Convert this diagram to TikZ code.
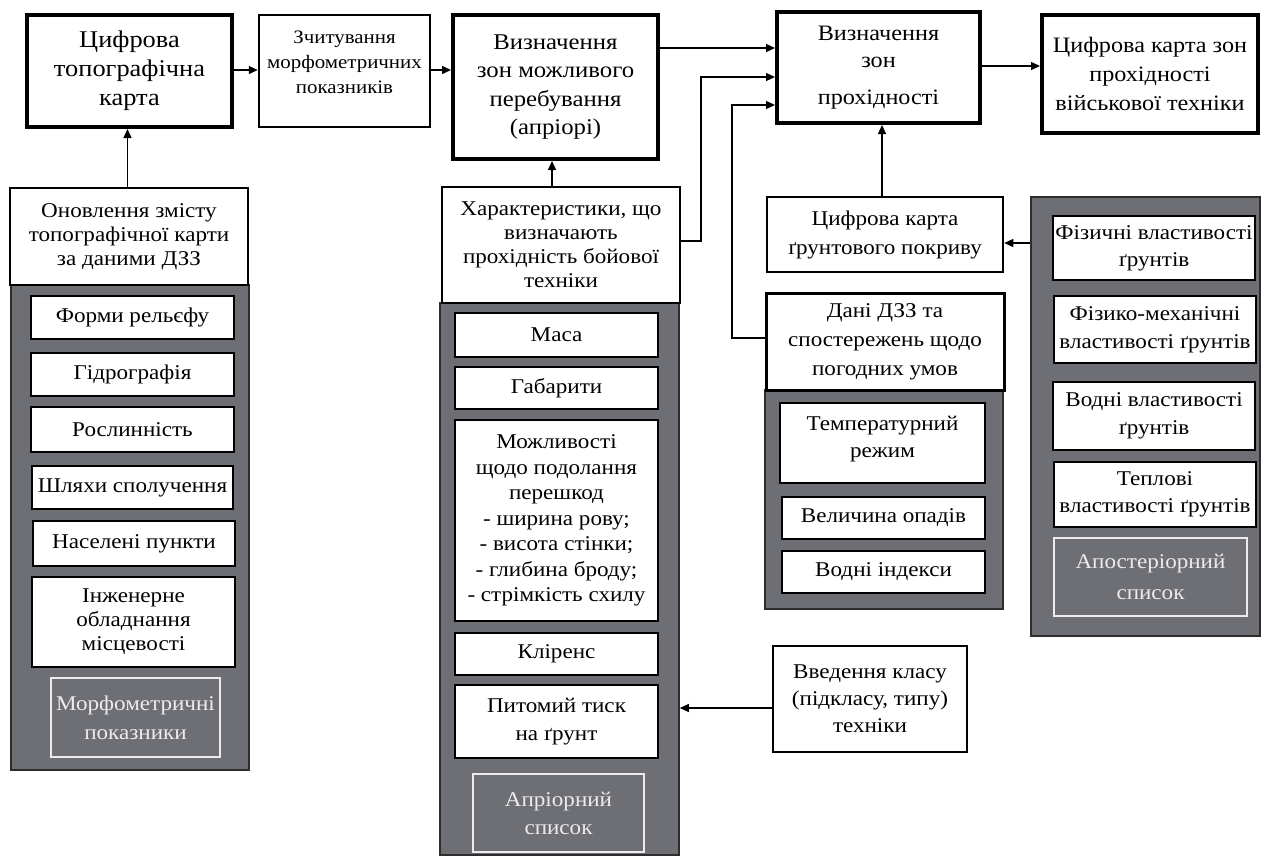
\documentclass[tikz,border=0pt]{standalone}
\usepackage{fontspec}
\setmainfont{Liberation Serif}[FakeStretch=1.1]
\usetikzlibrary{arrows.meta}
\definecolor{panelgray}{RGB}{110,111,116}
\definecolor{paneledge}{RGB}{45,45,45}
\definecolor{ltext}{RGB}{236,236,236}
\begin{document}
\begin{tikzpicture}[x=1pt,y=-1pt,
  every node/.style={inner sep=1pt, align=center},
  fnorm/.style={font=\fontsize{21}{25}\selectfont},
  fbig/.style={font=\fontsize{22}{29}\selectfont},
  boxthick/.style={draw=black, line width=4pt, fill=white, fbig},
  boxmid/.style={draw=black, line width=2.5pt, fill=white, fnorm},
  item/.style={draw=black, line width=1.6pt, fill=white, fnorm},
  panel/.style={draw=paneledge, line width=1.6pt, fill=panelgray},
  lbl/.style={draw=ltext, line width=1.2pt, text=ltext, fnorm},
  arr/.style={line width=1.4pt, -{Triangle[length=9pt,width=8pt]}},
]
\useasboundingbox (0,0) rectangle (1261,855);

% top row
\node[boxthick, minimum width=205pt, minimum height=112pt, font=\fontsize{24}{29}\selectfont] (ctm) at (129.5,71) {Цифрова\\топографічна\\карта};
\node[boxmid, minimum width=171pt, minimum height=112pt] (zch) at (344.5,71) {};
\node[font=\fontsize{19}{25}\selectfont] (zcht) at (344.5,62) {Зчитування\\морфометричних\\показників};
\node[boxthick, minimum width=205pt, minimum height=144pt, font=\fontsize{22.5}{28.5}\selectfont] (vzm) at (555.5,87) {Визначення\\зон можливого\\перебування\\(апріорі)};
\node[boxthick, minimum width=203pt, minimum height=111pt, font=\fontsize{22}{27}\selectfont] (vzp) at (878.5,67.5) {Визначення\\зон\\[10pt]прохідності};
\node[boxthick, minimum width=216pt, minimum height=118pt] (ckz) at (1150,74) {Цифрова карта зон\\прохідності\\військової техніки};

% left column
\node[panel, minimum width=238pt, minimum height=485pt] (p1) at (130,527.5) {};
\node[boxmid, line width=2pt, minimum width=238pt, minimum height=97pt, font=\fontsize{21}{24}\selectfont] (onov) at (129,236.5) {Оновлення змісту\\топографічної карти\\за даними ДЗЗ};
\node[item, minimum width=203pt, minimum height=43pt] (forms) at (132.5,317.5) {Форми рельєфу};
\node[item, minimum width=203pt, minimum height=43pt] (hydro) at (132.5,374.5) {Гідрографія};
\node[item, minimum width=203pt, minimum height=45pt] (rosl) at (132.5,429.5) {Рослинність};
\node[item, minimum width=201pt, minimum height=43pt] (shl) at (132.5,487.5) {Шляхи сполучення};
\node[item, minimum width=202pt, minimum height=45pt] (nasel) at (134,543.5) {Населені пункти};
\node[item, minimum width=203pt, minimum height=90pt, font=\fontsize{21}{24}\selectfont] (inzh) at (133.5,622) {Інженерне\\обладнання\\місцевості};
\node[lbl, minimum width=169pt, minimum height=79pt, font=\fontsize{21}{29}\selectfont] (morf) at (135.5,717.5) {Морфометричні\\показники};

% middle column
\node[panel, minimum width=239pt, minimum height=552pt] (p2) at (559.5,579) {};
\node[boxmid, minimum width=238pt, minimum height=116pt, font=\fontsize{21}{24}\selectfont] (har) at (561,245) {Характеристики, що\\визначають\\прохідність бойової\\техніки};
\node[item, minimum width=203pt, minimum height=44pt] (masa) at (556.5,335) {Маса};
\node[item, minimum width=203pt, minimum height=42pt] (gab) at (556.5,388) {Габарити};
\node[item, minimum width=203pt, minimum height=201pt, font=\fontsize{21}{25.5}\selectfont] (mozh) at (556.5,520.5) {Можливості\\щодо подолання\\перешкод\\- ширина рову;\\- висота стінки;\\- глибина броду;\\- стрімкість схилу};
\node[item, minimum width=203pt, minimum height=42pt] (klir) at (556.5,654) {Кліренс};
\node[item, minimum width=203pt, minimum height=73pt, font=\fontsize{21}{28}\selectfont] (pyt) at (556.5,721.5) {Питомий тиск\\на ґрунт};
\node[lbl, minimum width=171pt, minimum height=78pt, font=\fontsize{21}{28}\selectfont] (apr) at (558.5,813) {Апріорний\\список};

% weather column
\node[boxmid, minimum width=236pt, minimum height=75pt, font=\fontsize{21}{29}\selectfont] (gr) at (885,234.5) {Цифрова карта\\ґрунтового покриву};
\node[panel, minimum width=238pt, minimum height=219pt] (p3) at (884,499.5) {};
\node[boxmid, line width=3pt, minimum width=238pt, minimum height=97pt, font=\fontsize{21}{29}\selectfont] (ddzz) at (885,341.5) {Дані ДЗЗ та\\спостережень щодо\\погодних умов};
\node[item, minimum width=205pt, minimum height=80pt, font=\fontsize{21}{27}\selectfont, text depth=12pt] (temp) at (882.5,443) {Температурний\\режим};
\node[item, minimum width=203pt, minimum height=42pt] (opad) at (883.5,518) {Величина опадів};
\node[item, minimum width=203pt, minimum height=42pt] (vodn) at (883.5,572) {Водні індекси};
\node[boxmid, minimum width=194pt, minimum height=106pt, font=\fontsize{21}{27}\selectfont] (vved) at (870,699) {Введення класу\\(підкласу, типу)\\техніки};

% right column
\node[panel, minimum width=229pt, minimum height=439pt] (p4) at (1145.5,416.5) {};
\node[item, minimum width=202pt, minimum height=64pt, font=\fontsize{21}{27}\selectfont] (fiz) at (1154,248) {Фізичні властивості\\ґрунтів};
\node[item, minimum width=202pt, minimum height=67pt, font=\fontsize{21}{28}\selectfont] (fizm) at (1155,329.5) {Фізико-механічні\\властивості ґрунтів};
\node[item, minimum width=202pt, minimum height=68pt, font=\fontsize{21}{28}\selectfont] (vodnv) at (1154,416) {Водні властивості\\ґрунтів};
\node[item, minimum width=202pt, minimum height=65pt, font=\fontsize{21}{27}\selectfont] (tepl) at (1155,494.5) {Теплові\\властивості ґрунтів};
\node[lbl, minimum width=193pt, minimum height=78pt, font=\fontsize{21}{31}\selectfont] (apost) at (1150.5,577) {Апостеріорний\\список};

% junction points
\coordinate (j1) at (701,77);
\coordinate (j2) at (732,105);

% connectors
\draw[arr] ([yshift=1pt]ctm.east) -- ([yshift=1pt]ctm.east -| zch.west);
\draw[arr] ([yshift=1pt]zch.east) -- ([yshift=1pt]zch.east -| vzm.west);
\draw[arr] ([yshift=39pt]vzm.east) -- ([yshift=39pt]vzm.east -| vzp.west);
\draw[arr] ([yshift=1.5pt]vzp.east) -- ([yshift=1.5pt]vzp.east -| ckz.west);
\draw[arr] ([xshift=-1.5pt]onov.north) -- ([xshift=-1.5pt]onov.north |- ctm.south);
\draw[arr] ([xshift=-9pt]har.north) -- ([xshift=-9pt]har.north |- vzm.south);
\draw[arr] ([xshift=-3pt]gr.north) -- ([xshift=-3pt]gr.north |- vzp.south);
\draw[arr, line width=1.2pt] ([yshift=4pt]har.east) -| (j1) -- (j1 -| vzp.west);
\draw[arr, line width=1.2pt] ([yshift=3.5pt]ddzz.west) -| (j2) -- (j2 -| vzp.west);
\draw[arr] ([yshift=-8.5pt]gr.east -| p4.west) -- ([yshift=-8.5pt]gr.east);
\draw[arr] ([yshift=-9pt]vved.west) -- ([yshift=-9pt]vved.west -| p2.east);
\end{tikzpicture}
\end{document}
